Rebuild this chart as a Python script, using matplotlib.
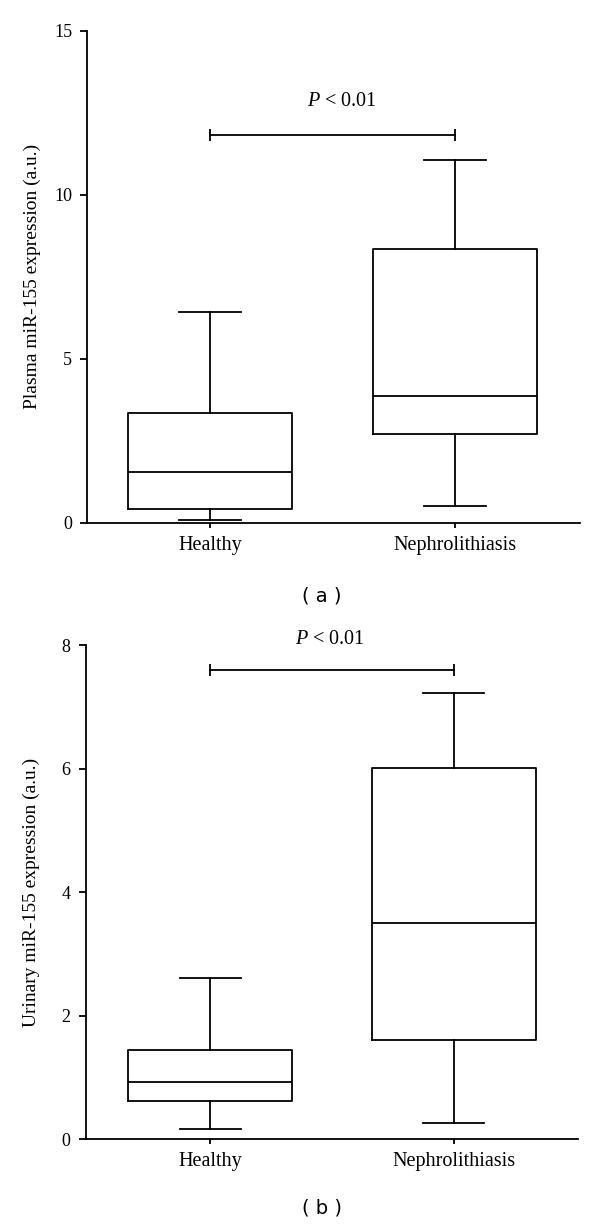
import matplotlib
matplotlib.use("Agg")
import matplotlib.pyplot as plt

plt.rcParams['font.family'] = ['Liberation Serif', 'DejaVu Serif']
plt.rcParams['mathtext.fontset'] = 'custom'
plt.rcParams['mathtext.it'] = 'Liberation Serif:italic'
plt.rcParams['mathtext.rm'] = 'Liberation Serif'

groups = ["Healthy", "Nephrolithiasis"]

# panel (a): plasma
plasma_whislo = [0.08, 0.50]
plasma_q1 = [0.43, 2.70]
plasma_med = [1.55, 3.87]
plasma_q3 = [3.36, 8.34]
plasma_whishi = [6.43, 11.06]
plasma_sig_y = 11.83
plasma_yticks = [0, 5, 10, 15]

# panel (b): urinary
urine_whislo = [0.17, 0.27]
urine_q1 = [0.62, 1.60]
urine_med = [0.92, 3.51]
urine_q3 = [1.45, 6.01]
urine_whishi = [2.61, 7.23]
urine_sig_y = 7.60
urine_yticks = [0, 2, 4, 6, 8]

p_label = "$P$ < 0.01"

fig = plt.figure(figsize=(6, 12.24), dpi=100)
ax_a = fig.add_axes([0.1458, 0.5730, 0.8208, 0.4017])
ax_b = fig.add_axes([0.1427, 0.0692, 0.8213, 0.4036])

lw = 1.3
line_kw = dict(color='black', linewidth=lw)


def draw_panel(ax, lo, q1, med, q3, hi, sig_y, yticks, ylabel, xlim,
               cap_h, text_x, text_y, label_x):
    stats = []
    for i, g in enumerate(groups):
        stats.append(dict(label=g, whislo=lo[i], q1=q1[i], med=med[i],
                          q3=q3[i], whishi=hi[i], fliers=[]))
    ax.bxp(stats, positions=[1, 2], widths=0.67, capwidths=0.25,
           showfliers=False, patch_artist=False,
           boxprops=line_kw, whiskerprops=line_kw, capprops=line_kw,
           medianprops=line_kw)

    # significance bracket
    ax.plot([1, 2], [sig_y, sig_y], color='black', linewidth=lw,
            marker='|', markersize=cap_h, markeredgewidth=lw, clip_on=False)
    ax.text(text_x, text_y, p_label, ha='center', va='center', fontsize=14.5)

    ax.set_xlim(*xlim)
    ax.set_ylim(0, yticks[-1])
    ax.set_yticks(yticks)
    ax.set_xticks([1, 2])
    ax.set_xticklabels(groups)
    for s in ['top', 'right']:
        ax.spines[s].set_visible(False)
    for s in ['left', 'bottom']:
        ax.spines[s].set_linewidth(lw)
    ax.tick_params(axis='y', direction='out', length=5, width=lw, pad=6,
                   labelsize=13)
    ax.tick_params(axis='x', direction='out', length=3.5, width=lw, pad=6,
                   labelsize=14.5)
    ax.set_ylabel(ylabel, fontsize=14)
    ax.yaxis.set_label_coords(label_x, 0.5)


draw_panel(ax_a, plasma_whislo, plasma_q1, plasma_med, plasma_q3,
           plasma_whishi, plasma_sig_y, plasma_yticks,
           "Plasma miR-155 expression (a.u.)", (0.5, 2.51),
           8, 1.54, 12.85, -0.094)
draw_panel(ax_b, urine_whislo, urine_q1, urine_med, urine_q3,
           urine_whishi, urine_sig_y, urine_yticks,
           "Urinary miR-155 expression (a.u.)", (0.49, 2.51),
           9, 1.49, 8.09, -0.092)

fig.text(0.537, 1 - 596 / 1224, "( a )", family='DejaVu Sans', fontsize=14,
         ha='center', va='center')
fig.text(0.537, 1 - 1208 / 1224, "( b )", family='DejaVu Sans', fontsize=14,
         ha='center', va='center')

fig.savefig("out.png", dpi=100, facecolor='white')
